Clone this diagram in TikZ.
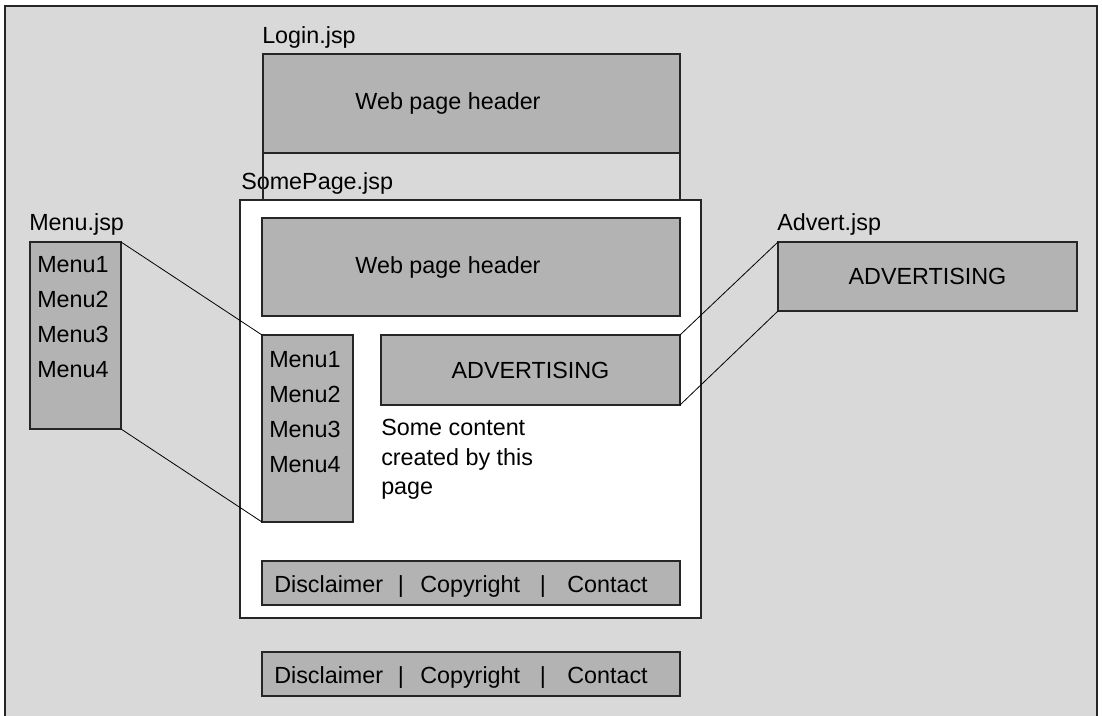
\documentclass[tikz,border=0pt]{standalone}
\usepackage{fontspec}
\setmainfont{Liberation Sans}
\definecolor{pagebg}{HTML}{D9D9D9}
\definecolor{blockfill}{HTML}{B3B3B3}
\definecolor{edge}{HTML}{262626}
\begin{document}
\begin{tikzpicture}[x=0.75pt,y=-0.75pt,
  font=\fontsize{17.5}{20}\selectfont,
  block/.style={draw=edge, fill=blockfill, line width=0.8pt, inner sep=0pt, outer sep=0pt},
  pagebox/.style={draw=edge, fill=white, line width=0.8pt, inner sep=0pt, outer sep=0pt},
  lbl/.style={inner sep=0pt, anchor=base west},
  sep/.style={inner sep=0pt, anchor=base},
  link/.style={draw=black, line width=0.6pt}]
\useasboundingbox (0,0) rectangle (1102,716);

% outer frame
\fill[pagebg] (5,6) rectangle (1097,716);
\draw[edge, line width=1pt] (5,716) -- (5,6) -- (1097,6) -- (1097,716);

% Login.jsp
\node[lbl] (loginlbl) at (262,44) {Login.jsp};
\node[block, minimum width=417*0.75pt, minimum height=99*0.75pt] (loginhdr) at (471.5,103.5) {};
\node[sep] (loginhdrtxt) at (448,110) {Web page header};

% SomePage.jsp
\node[lbl] (splbl) at (241,190) {SomePage.jsp};
\node[pagebox, minimum width=461*0.75pt, minimum height=418*0.75pt] (sp) at (470.5,409) {};
\draw[edge, line width=0.8pt] (loginhdr.south west) -- (loginhdr.south west |- sp.north);
\draw[edge, line width=0.8pt] (loginhdr.south east) -- (loginhdr.south east |- sp.north);

\node[block, minimum width=418*0.75pt, minimum height=98*0.75pt] (sphdr) at (471,267) {};
\node[sep] (sphdrtxt) at (448,274) {Web page header};
\node[block, minimum width=91*0.75pt, minimum height=187*0.75pt] (spmenu) at (307.5,428.5) {};
\node[lbl] (spm1) at (269,367) {Menu1};
\node[lbl] (spm2) at (269,402) {Menu2};
\node[lbl] (spm3) at (269,437) {Menu3};
\node[lbl] (spm4) at (269,472) {Menu4};
\node[block, minimum width=299*0.75pt, minimum height=70*0.75pt] (spad) at (530.5,370) {ADVERTISING};
\node[lbl] (txt1) at (381,435) {Some content};
\node[lbl] (txt2) at (381,465) {created by this};
\node[lbl] (txt3) at (381,494) {page};

\node[block, minimum width=418*0.75pt, minimum height=44*0.75pt] (spfoot) at (471,583) {};
\node[lbl] (spf1) at (274,592) {Disclaimer};
\node[sep] (spf2) at (401,592) {|};
\node[lbl] (spf3) at (420,592) {Copyright};
\node[sep] (spf4) at (543,592) {|};
\node[lbl] (spf5) at (567,592) {Contact};

% Login.jsp footer
\node[block, minimum width=418*0.75pt, minimum height=44*0.75pt] (lgfoot) at (471,674) {};
\node[lbl] (lgf1) at (274,683) {Disclaimer};
\node[sep] (lgf2) at (401,683) {|};
\node[lbl] (lgf3) at (420,683) {Copyright};
\node[sep] (lgf4) at (543,683) {|};
\node[lbl] (lgf5) at (567,683) {Contact};

% Menu.jsp
\node[lbl] (menulbl) at (29,231) {Menu.jsp};
\node[block, minimum width=91*0.75pt, minimum height=187*0.75pt] (menu) at (75.5,335.5) {};
\node[lbl] (m1) at (37,273) {Menu1};
\node[lbl] (m2) at (37,308) {Menu2};
\node[lbl] (m3) at (37,343) {Menu3};
\node[lbl] (m4) at (37,378) {Menu4};

% Advert.jsp
\node[lbl] (advlbl) at (777,231) {Advert.jsp};
\node[block, minimum width=299*0.75pt, minimum height=69*0.75pt] (adv) at (927.5,276.5) {ADVERTISING};

% inclusion links
\draw[link] (menu.north east) -- (spmenu.north west);
\draw[link] (menu.south east) -- (spmenu.south west);
\draw[link] (spad.north east) -- (adv.north west);
\draw[link] (spad.south east) -- (adv.south west);
\end{tikzpicture}
\end{document}
